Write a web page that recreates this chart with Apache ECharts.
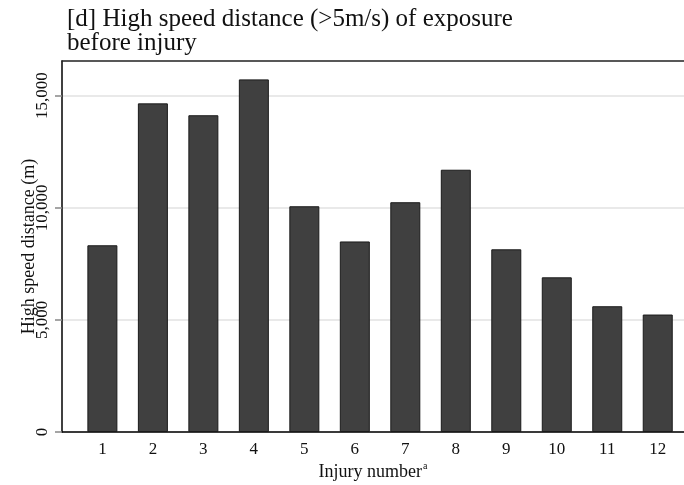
<!DOCTYPE html>
<html>
<head>
<meta charset="utf-8">
<script src="https://cdn.jsdelivr.net/npm/echarts@6/dist/echarts.min.js"></script>
<style>
  html, body { margin: 0; padding: 0; background: #fff; }
  #chart { width: 684px; height: 485px; }
</style>
</head>
<body>
<div id="chart"></div>
<script>
// injury numbers and high speed distance (m) before each injury
const injuries = [1, 2, 3, 4, 5, 6, 7, 8, 9, 10, 11, 12];
const distance = [8330, 14660, 14130, 15730, 10070, 8500, 10250, 11700, 8150, 6900, 5610, 5240];
const yTicks = [0, 5000, 10000, 15000];

const FONT = 'Liberation Serif';

const chart = echarts.init(document.getElementById('chart'));

const option = {
  animation: false,
  backgroundColor: '#fff',
  title: {
    text: '[d] High speed distance (>5m/s) of exposure\nbefore injury',
    left: 62,
    top: 2,
    textStyle: {
      fontFamily: FONT,
      fontSize: 25,
      fontWeight: 'normal',
      color: '#111',
      lineHeight: 24,
    },
  },
  grid: {
    left: 62,
    right: 0,
    top: 61,
    bottom: 53,
    outerBoundsMode: 'none',
    containLabel: false,
  },
  xAxis: [
    {
      type: 'value',
      min: 0.2,
      max: 12.52,
      name: 'Injury number{sup|a}',
      nameLocation: 'middle',
      nameGap: 29,
      nameMoveOverlap: false,
      nameTextStyle: {
        fontFamily: FONT,
        fontSize: 18,
        color: '#111',
        rich: {
          sup: { fontFamily: FONT, fontSize: 10, color: '#111', padding: [0, 0, 12, 1] },
        },
      },
      axisLine: { show: true, onZero: false, lineStyle: { color: '#000', width: 1.5 } },
      axisTick: { show: false },
      splitLine: { show: false },
      axisLabel: {
        customValues: injuries,
        fontFamily: FONT,
        fontSize: 17,
        color: '#111',
        margin: 9,
      },
    },
    {
      // top frame line
      type: 'value',
      position: 'top',
      min: 0.2,
      max: 12.52,
      axisLine: { show: true, onZero: false, lineStyle: { color: '#222', width: 1.5 } },
      axisTick: { show: false },
      axisLabel: { show: false },
      splitLine: { show: false },
    },
  ],
  yAxis: {
    type: 'value',
    min: 0,
    max: 16550,
    name: 'High speed distance (m)',
    nameLocation: 'middle',
    nameGap: 24,
    nameMoveOverlap: false,
    nameTextStyle: { fontFamily: FONT, fontSize: 18, color: '#111' },
    axisLine: { show: true, lineStyle: { color: '#000', width: 1.5 } },
    axisTick: {
      show: true,
      length: 7,
      customValues: yTicks,
      lineStyle: { color: '#888', width: 1.5 },
    },
    splitLine: { show: true, lineStyle: { color: '#e2e2e2', width: 1.5 } },
    axisLabel: {
      customValues: yTicks,
      rotate: 90,
      margin: 11,
      fontFamily: FONT,
      fontSize: 17,
      color: '#111',
      formatter: v => v.toLocaleString('en-US'),
    },
  },
  series: [
    {
      type: 'bar',
      barWidth: 30,
      data: injuries.map((n, i) => [n, distance[i]]),
      itemStyle: { color: '#404040', borderColor: '#1a1a1a', borderWidth: 1 },
    },
  ],
};

chart.setOption(option);
</script>
</body>
</html>
